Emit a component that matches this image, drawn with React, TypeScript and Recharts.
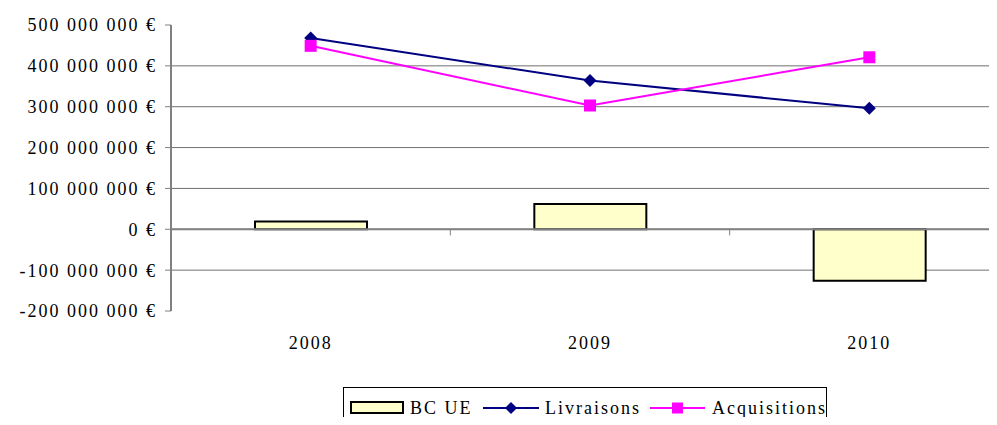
import { ComposedChart, Bar, Line, XAxis, YAxis, CartesianGrid, ReferenceLine } from 'recharts'

const years = ['2008', '2009', '2010']
const bcUe = [19000000, 62000000, -126000000]
const livraisons = [468000000, 364000000, 296000000]
const acquisitions = [449000000, 303000000, 421000000]
const yTicks = [-200000000, -100000000, 0, 100000000, 200000000, 300000000, 400000000, 500000000]
const gridValues = [-100000000, 0, 100000000, 200000000, 300000000, 400000000]

const data = years.map((year, i) => ({
  year,
  bcUe: bcUe[i],
  livraisons: livraisons[i],
  acquisitions: acquisitions[i],
}))

const FONT = 'Liberation Serif, Times New Roman, DejaVu Serif, serif'

const formatEuro = (v: number) => {
  const s = Math.abs(v).toString().replace(/\B(?=(\d{3})+(?!\d))/g, ' ')
  return (v < 0 ? '-' : '') + s + ' €'
}

const Diamond = ({ cx, cy, index }: any) => (
  <polygon
    key={`d-${index}`}
    points={`${cx},${cy - 6.5} ${cx + 6.5},${cy} ${cx},${cy + 6.5} ${cx - 6.5},${cy}`}
    fill="#000080"
  />
)

const Square = ({ cx, cy, index }: any) => (
  <rect key={`s-${index}`} x={cx - 6} y={cy - 6} width={12} height={12} fill="#FF00FF" />
)

function ChartLegend() {
  return (
    <div
      style={{
        position: 'absolute',
        left: 343,
        top: 387,
        width: 484,
        height: 44,
        border: '1px solid #000',
        boxSizing: 'border-box',
      }}
    >
      <svg width={484} height={44} style={{ position: 'absolute', left: -1, top: -1 }}>
        <rect x={8} y={15} width={52} height={11} fill="#FFFFCC" stroke="#000" strokeWidth={2} />
        <text x={67} y={27} fontSize={18} letterSpacing={2} fontFamily={FONT}>BC UE</text>
        <line x1={140} y1={21} x2={196} y2={21} stroke="#000080" strokeWidth={2} />
        <polygon points="168,15 174,21 168,27 162,21" fill="#000080" />
        <text x={202} y={27} fontSize={18} letterSpacing={2} fontFamily={FONT}>Livraisons</text>
        <line x1={307} y1={21} x2={362} y2={21} stroke="#FF00FF" strokeWidth={2} />
        <rect x={329} y={15.5} width={11} height={11} fill="#FF00FF" />
        <text x={369} y={27} fontSize={18} letterSpacing={2} fontFamily={FONT}>Acquisitions</text>
      </svg>
    </div>
  )
}

export default function App() {
  return (
    <div
      style={{
        margin: -8,
        width: 997,
        height: 425,
        overflow: 'hidden',
        position: 'relative',
        background: '#fff',
        fontFamily: FONT,
      }}
    >
      <ComposedChart
        width={1020}
        height={425}
        data={data}
        margin={{ top: 25, right: 11, left: 0, bottom: 84 }}
        style={{ fontFamily: FONT }}
      >
        <CartesianGrid
          vertical={false}
          horizontalValues={gridValues}
          stroke="#707070"
          strokeWidth={1}
        />
        <XAxis
          dataKey="year"
          axisLine={false}
          tickLine={false}
          height={30}
          tickMargin={19}
          tick={{ fontSize: 18, fill: '#000', fontFamily: FONT, letterSpacing: 2 }}
        />
        <YAxis
          width={171}
          domain={[-200000000, 500000000]}
          ticks={yTicks}
          interval={0}
          tickFormatter={formatEuro}
          tickSize={6}
          tickMargin={8}
          axisLine={{ stroke: '#808080', strokeWidth: 2 }}
          tickLine={{ stroke: '#808080' }}
          tick={{ fontSize: 18, fill: '#000', fontFamily: FONT, letterSpacing: 2 }}
        />
        <ReferenceLine y={0} stroke="#808080" strokeWidth={2} />
        {years.slice(1).map((yr) => (
          <ReferenceLine
            key={yr}
            segment={[{ x: yr, y: 0 }, { x: yr, y: -15000000 }]}
            position="start"
            stroke="#808080"
          />
        ))}
        <Bar
          dataKey="bcUe"
          barSize={112}
          fill="#FFFFCC"
          stroke="#000"
          strokeWidth={2}
          isAnimationActive={false}
        />
        <Line
          dataKey="livraisons"
          stroke="#000080"
          strokeWidth={2}
          dot={Diamond}
          activeDot={false}
          isAnimationActive={false}
        />
        <Line
          dataKey="acquisitions"
          stroke="#FF00FF"
          strokeWidth={2}
          dot={Square}
          activeDot={false}
          isAnimationActive={false}
        />
      </ComposedChart>
      <ChartLegend />
    </div>
  )
}
